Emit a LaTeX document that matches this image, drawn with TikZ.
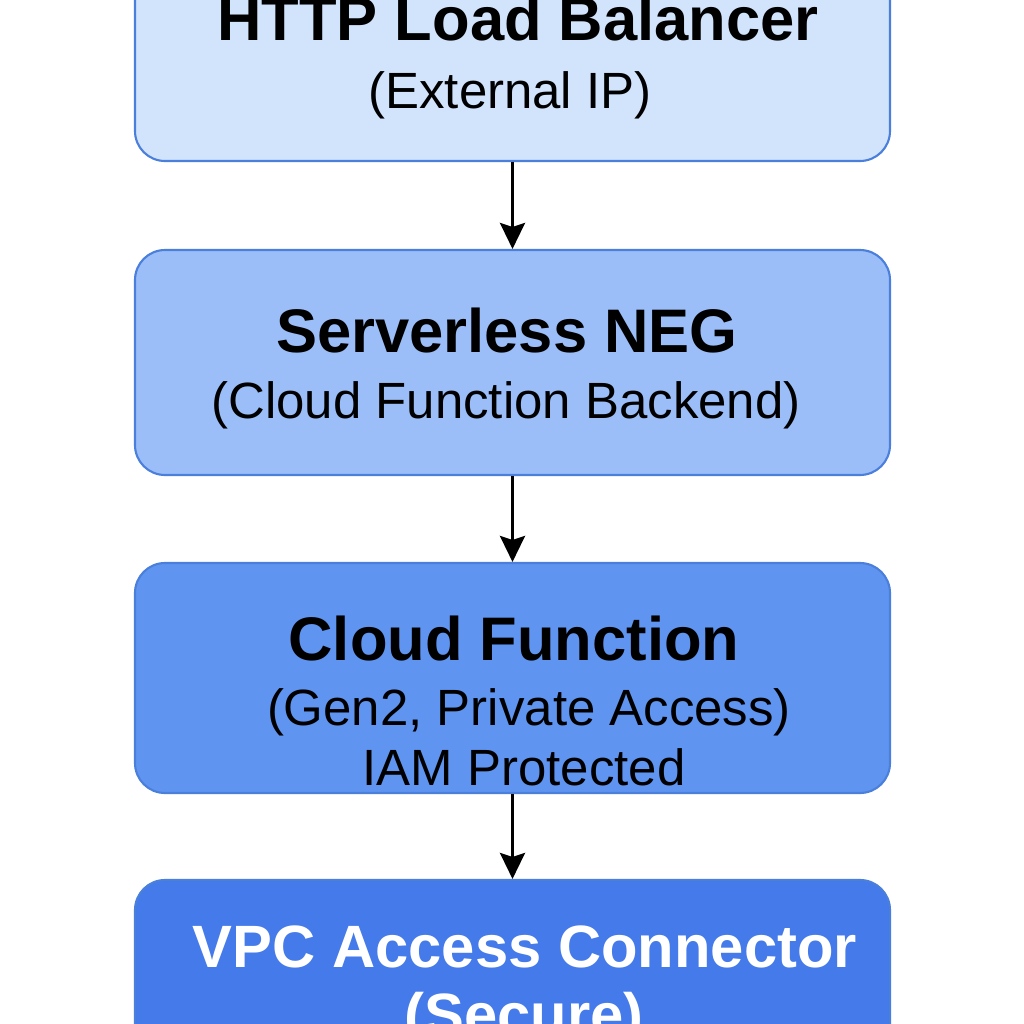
\documentclass[tikz,border=0pt]{standalone}
\usepackage{fontspec}
\setmainfont{Liberation Sans}
\usetikzlibrary{arrows.meta}

\definecolor{lbfill}{HTML}{D2E3FC}
\definecolor{negfill}{HTML}{9BBEF8}
\definecolor{cffill}{HTML}{5F94F1}
\definecolor{vpcfill}{HTML}{447AE9}
\definecolor{edge}{HTML}{4A7FDB}

\tikzstyle{stage} = [rectangle, rounded corners=0.6cm, draw=edge, line width=1.2pt,
    minimum width=15.1cm, minimum height=4.5cm]
\tikzstyle{head} = [anchor=base, font=\fontsize{35}{40}\selectfont\bfseries]
\tikzstyle{whead} = [anchor=base, white, font=\fontsize{34}{40}\selectfont\bfseries]
\tikzstyle{sub} = [anchor=base, font=\fontsize{29}{34}\selectfont]
\tikzstyle{flow} = [draw, line width=1.7pt,
    -{Stealth[length=0.52cm, width=0.5cm, inset=0.08cm]}]

\begin{document}
\begin{tikzpicture}
	\useasboundingbox (0,0) rectangle (20.48,-20.48);
	\node [stage, fill=lbfill] (lb) at (10.25,-0.97) {};
	\node [stage, fill=negfill] (neg) at (10.25,-7.25) {};
	\node [stage, fill=cffill, minimum height=4.6cm] (cf) at (10.25,-13.56) {};
	\node [stage, fill=vpcfill, minimum height=4.56cm] (vpc) at (10.25,-19.88) {};
	%
	\node [head] (lbt) at (10.36,-0.8) {HTTP Load Balancer};
	\node [sub] (lbs) at (10.2,-2.16) {(External IP)};
	%
	\node [head] (negt) at (10.14,-7.04) {Serverless NEG};
	\node [sub] (negs) at (10.12,-8.36) {(Cloud Function Backend)};
	%
	\node [head] (cft) at (10.28,-13.2) {Cloud Function};
	\node [sub] (cfs) at (10.58,-14.5) {(Gen2, Private Access)};
	\node [sub] (cfi) at (10.48,-15.7) {IAM Protected};
	%
	\node [whead] (vpct) at (10.5,-19.34) {VPC Access Connector};
	\node [whead] (vpcs) at (10.48,-20.7) {(Secure)};
	%
	\draw [flow] (lb) -- (neg);
	\draw [flow] (neg) -- (cf);
	\draw [flow] (cf) -- (vpc);
\end{tikzpicture}
\end{document}
